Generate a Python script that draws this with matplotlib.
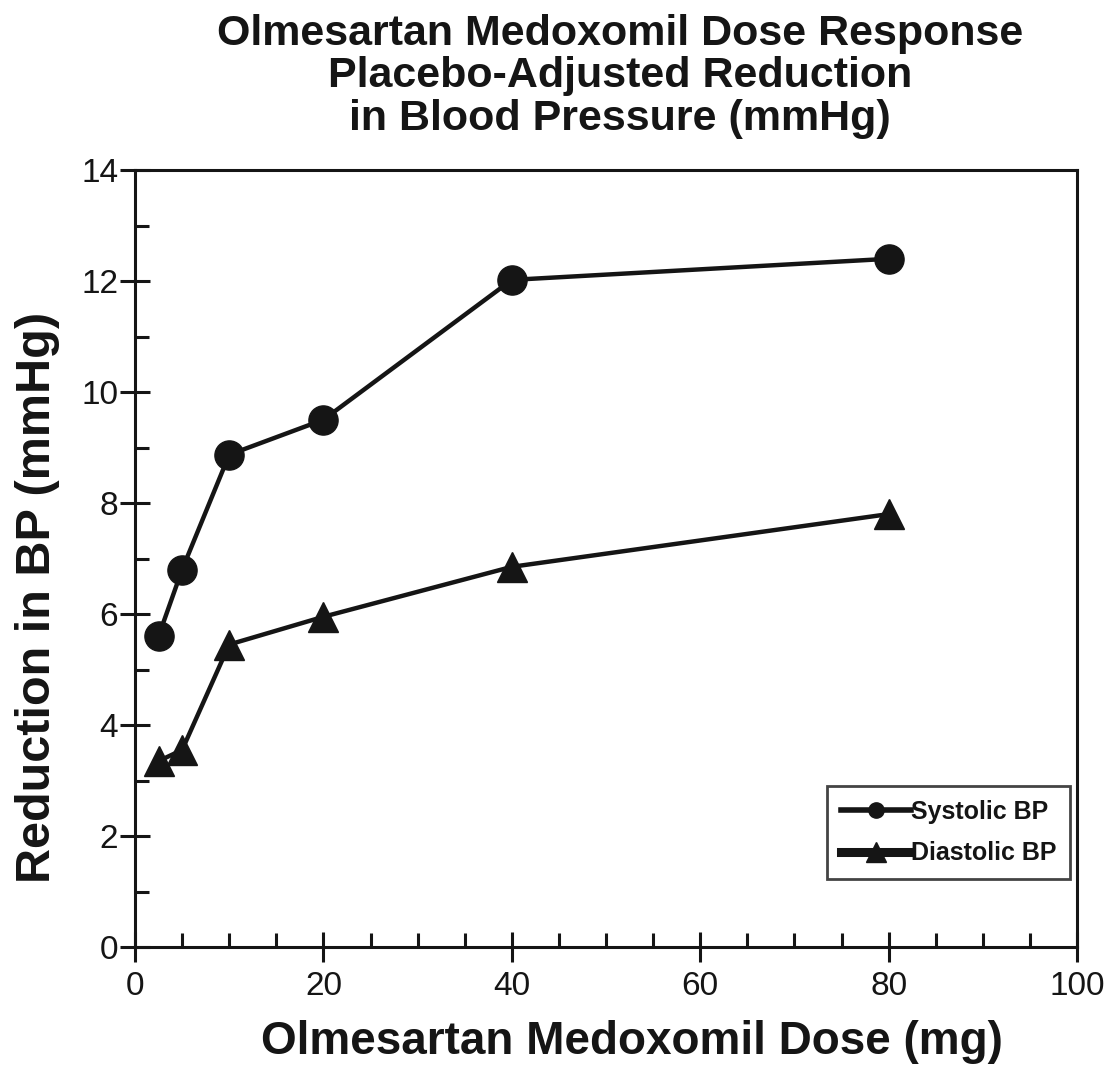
import matplotlib
matplotlib.use("Agg")
import matplotlib.pyplot as plt
from matplotlib.lines import Line2D
from matplotlib.ticker import MultipleLocator

# Data
doses = [2.5, 5, 10, 20, 40, 80]
systolic = [5.6, 6.8, 8.87, 9.5, 12.02, 12.4]
diastolic = [3.35, 3.55, 5.45, 5.95, 6.85, 7.8]
series_labels = ["Systolic BP", "Diastolic BP"]
title_text = "Olmesartan Medoxomil Dose Response\nPlacebo-Adjusted Reduction\nin Blood Pressure (mmHg)"
xlabel_text = "Olmesartan Medoxomil Dose (mg)"
ylabel_text = "Reduction in BP (mmHg)"

plt.rcParams['font.family'] = ['Liberation Sans', 'DejaVu Sans']
W, H = 1113, 1071
fig = plt.figure(figsize=(W / 100, H / 100), dpi=100)
ax = fig.add_axes([135 / W, 1 - 947 / H, (1077 - 135) / W, (947 - 170) / H])

ink = "#151515"
ax.plot(doses, systolic, color=ink, lw=3.2, marker='o', ms=21, zorder=3)
ax.plot(doses, diastolic, color=ink, lw=3.2, marker='^', ms=22, zorder=3)

ax.set_xlim(0, 100)
ax.set_ylim(0, 14)
ax.xaxis.set_major_locator(MultipleLocator(20))
ax.xaxis.set_minor_locator(MultipleLocator(5))
ax.yaxis.set_major_locator(MultipleLocator(2))
ax.yaxis.set_minor_locator(MultipleLocator(1))
ax.tick_params(which='major', direction='inout', length=22, width=2.2, labelsize=24,
               colors=ink)
ax.tick_params(axis='y', which='major', pad=1)
ax.tick_params(axis='x', which='major', pad=6)
ax.tick_params(which='minor', direction='in', length=10, width=2.2, colors=ink)
for s in ax.spines.values():
    s.set_linewidth(2.2)
    s.set_color(ink)

ax.set_xlabel(xlabel_text, fontsize=33, fontweight='bold', color=ink)
ax.xaxis.set_label_coords(0.5 + 26 / 942, -0.094)
ax.set_ylabel(ylabel_text, fontsize=35, fontweight='bold', color=ink)
ax.yaxis.set_label_coords(-0.08, 0.45)
fig.text(620 / W, 1 - 14 / H, title_text, ha='center', va='top', fontsize=31,
         fontweight='bold', color=ink, linespacing=1.08)

handles = [Line2D([], [], color=ink, lw=4, marker='o', ms=11),
           Line2D([], [], color=ink, lw=6.5, marker='^', ms=14)]
leg = ax.legend(handles, series_labels, loc='lower right', bbox_to_anchor=(1.0 - 7 / 942, (947 - 879) / 777),
                prop={'weight': 'bold', 'size': 18}, frameon=True, fancybox=False,
                edgecolor=ink, handlelength=2.8, handletextpad=0.0, labelspacing=0.7,
                borderpad=0.55, borderaxespad=0)
leg.get_frame().set_linewidth(2.0)
for t in leg.get_texts():
    t.set_color(ink)

fig.savefig("out.png", dpi=100)
